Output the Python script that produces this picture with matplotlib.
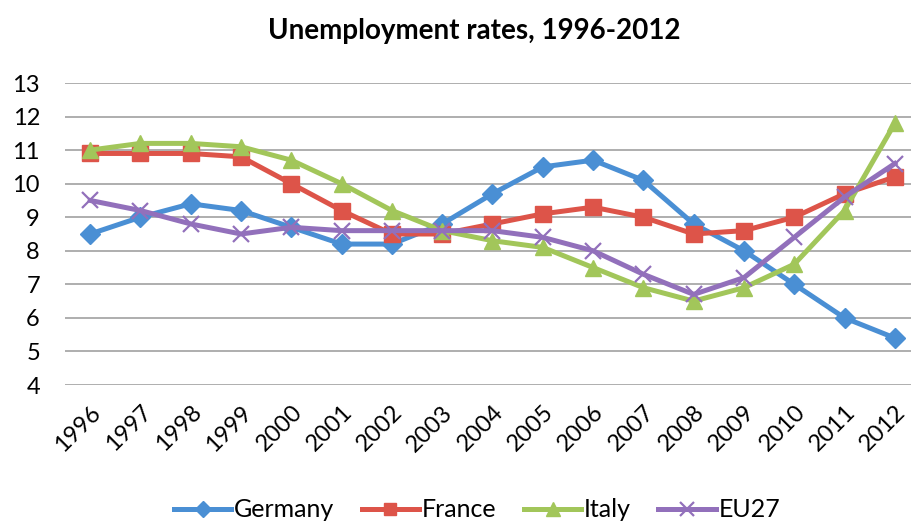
import matplotlib.pyplot as plt

plt.rcParams['font.family'] = ['Lato', 'DejaVu Sans']

years = ['1996', '1997', '1998', '1999', '2000', '2001', '2002', '2003', '2004',
         '2005', '2006', '2007', '2008', '2009', '2010', '2011', '2012']
germany = [8.5, 9.0, 9.4, 9.2, 8.7, 8.2, 8.2, 8.8, 9.7, 10.5, 10.7, 10.1, 8.8, 8.0, 7.0, 6.0, 5.4]
france = [10.9, 10.9, 10.9, 10.8, 10.0, 9.2, 8.5, 8.5, 8.8, 9.1, 9.3, 9.0, 8.5, 8.6, 9.0, 9.7, 10.2]
italy = [11.0, 11.2, 11.2, 11.1, 10.7, 10.0, 9.2, 8.6, 8.3, 8.1, 7.5, 6.9, 6.5, 6.9, 7.6, 9.2, 11.8]
eu27 = [9.5, 9.2, 8.8, 8.5, 8.7, 8.6, 8.6, 8.6, 8.6, 8.4, 8.0, 7.3, 6.7, 7.2, 8.4, 9.6, 10.6]

x = list(range(len(years)))

fig = plt.figure(figsize=(9.12, 5.23), dpi=100)
ax = fig.add_axes([65 / 912, 138 / 523, 855 / 912, 302 / 523])

ax.plot(x, germany, color='#4a8fd4', lw=3.6, marker='D', ms=10, label='Germany')
ax.plot(x, france, color='#dd5449', lw=3.6, marker='s', ms=11, label='France')
ax.plot(x, italy, color='#a2c65a', lw=3.6, marker='^', ms=12, label='Italy')
ax.plot(x, eu27, color='#9270bb', lw=3.6, marker='x', ms=12, mew=1.6, label='EU27')

ax.set_xlim(-0.5, 16.5)
ax.set_ylim(4, 13)
ax.set_yticks(range(4, 14))
ax.set_xticks(x)
ax.set_xticklabels(years, rotation=45, ha='right', rotation_mode='anchor', fontsize=17)
ax.tick_params(axis='y', labelsize=17, length=0, pad=18)
ax.tick_params(axis='x', length=0, pad=12)
ax.grid(axis='y', color='#a8a8a8', lw=1.3)
ax.set_axisbelow(True)
for s in ax.spines.values():
    s.set_visible(False)

fig.text(0.52, 0.94, 'Unemployment rates, 1996-2012', ha='center', va='center',
         fontsize=20, fontweight='bold')

handles, labels = ax.get_legend_handles_labels()
fig.legend(handles, labels, loc='center', bbox_to_anchor=(0.523, 0.025), ncol=4,
           frameon=False, fontsize=18, handlelength=2.3, columnspacing=1.1,
           handletextpad=0.1, markerscale=0.8)

fig.savefig('out.png', dpi=100)
